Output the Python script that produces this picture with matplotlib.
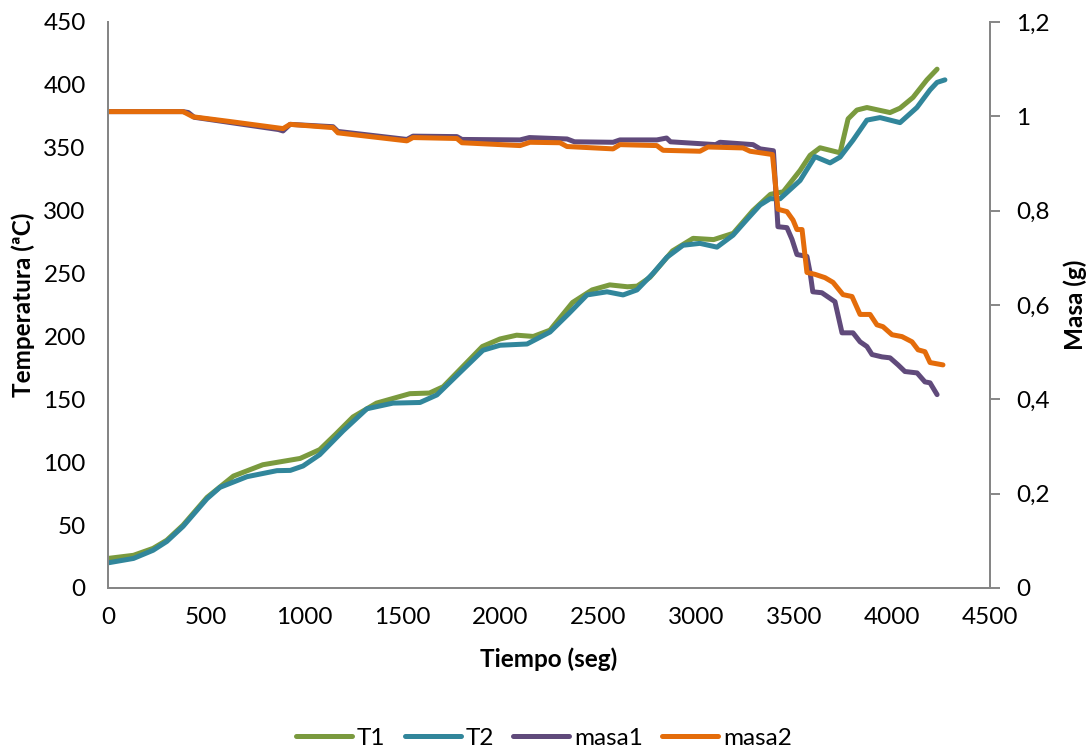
import matplotlib
matplotlib.use("Agg")
from matplotlib import pyplot as plt
from matplotlib.ticker import FuncFormatter

# temperature series (ºC) vs time (s)
t1_time = [0, 130, 230, 300, 383, 505, 640, 790, 980, 1080, 1160, 1250, 1370, 1540, 1640, 1710,
           1810, 1910, 2000, 2085, 2170, 2255, 2370, 2470, 2560, 2650, 2700, 2765, 2880, 2985,
           3090, 3190, 3290, 3380, 3445, 3531, 3582, 3633, 3735, 3776, 3821, 3872, 3990, 4041,
           4107, 4178, 4230]
t1_vals = [23.5, 26, 31.5, 38, 50, 72, 89, 98, 103, 110, 122, 136, 147, 154.5, 155, 160,
           176, 192, 198, 201, 200, 205, 227, 237, 241, 239.5, 240, 247, 268, 278,
           277, 282, 300, 313, 315, 332, 344, 350, 346, 373, 380, 382, 378, 381.5,
           390, 404, 412.5]

t2_time = [0, 130, 230, 300, 383, 505, 571, 709, 862, 930, 995, 1080, 1200, 1321, 1454, 1592,
           1678, 1800, 1913, 2000, 2138, 2255, 2350, 2444, 2546, 2628, 2699, 2780, 2852, 2934,
           3020, 3107, 3189, 3260, 3327, 3378, 3429, 3531, 3607, 3684, 3735, 3801, 3872, 3939,
           4041, 4127, 4194, 4230, 4270]
t2_vals = [20, 23.5, 30, 37, 49, 71, 80, 88.5, 93.3, 93.5, 97, 106, 125, 142.5, 147, 147.5,
           153.5, 172, 189, 193, 194, 203.5, 218, 233, 235.5, 233, 237, 250, 263, 272.5,
           274, 271, 280.5, 293, 304.5, 309.5, 309.5, 324, 343, 338, 342.6, 356, 372, 374,
           370, 382, 396, 402, 404]

# mass series (g) vs time (s)
m1_time = [0, 383, 410, 440, 622, 870, 893, 929, 1148, 1173, 1525, 1556, 1780, 1806, 2102,
           2150, 2342, 2380, 2577, 2612, 2800, 2850, 2870, 3100, 3122, 3291, 3327, 3395,
           3418, 3464, 3490, 3515, 3566, 3582, 3596, 3642, 3709, 3745, 3801, 3837, 3872,
           3898, 3949, 3990, 4031, 4066, 4128, 4168, 4194, 4230]
m1_vals = [1.01, 1.01, 1.008, 0.998, 0.987, 0.972, 0.969, 0.983, 0.978, 0.968, 0.951, 0.958,
           0.957, 0.951, 0.950, 0.955, 0.952, 0.946, 0.945, 0.950, 0.950, 0.954, 0.946, 0.940,
           0.945, 0.940, 0.931, 0.927, 0.766, 0.764, 0.739, 0.707, 0.703, 0.669, 0.628, 0.626,
           0.607, 0.541, 0.541, 0.522, 0.512, 0.495, 0.490, 0.488, 0.473, 0.459, 0.456, 0.437,
           0.435, 0.410]

m2_time = [0, 383, 434, 622, 893, 929, 1148, 1173, 1525, 1556, 1780, 1806, 2102, 2153, 2306,
           2342, 2577, 2612, 2800, 2832, 3020, 3061, 3240, 3276, 3390, 3418, 3464, 3495,
           3515, 3541, 3566, 3607, 3658, 3699, 3750, 3796, 3837, 3888, 3923, 3954, 4000,
           4051, 4102, 4133, 4168, 4194, 4260]
m2_vals = [1.01, 1.01, 0.999, 0.989, 0.974, 0.983, 0.976, 0.965, 0.948, 0.955, 0.953, 0.944,
           0.938, 0.945, 0.944, 0.936, 0.931, 0.940, 0.938, 0.928, 0.926, 0.935, 0.933, 0.926,
           0.919, 0.803, 0.798, 0.780, 0.760, 0.760, 0.669, 0.665, 0.658, 0.648, 0.622, 0.618,
           0.580, 0.580, 0.558, 0.554, 0.537, 0.533, 0.522, 0.505, 0.501, 0.478, 0.473]

x_ticks = [0, 500, 1000, 1500, 2000, 2500, 3000, 3500, 4000, 4500]
temp_ticks = [0, 50, 100, 150, 200, 250, 300, 350, 400, 450]
mass_ticks = [0, 0.2, 0.4, 0.6, 0.8, 1.0, 1.2]

plt.rcParams['font.family'] = ['Lato', 'DejaVu Sans']
FS = 17.5
GRAY = '#868686'

fig = plt.figure(figsize=(10.88, 7.48), dpi=100)
ax = fig.add_axes([108 / 1088, 160 / 748, 882 / 1088, 566 / 748])
ax2 = ax.twinx()

lw = 3.6
kw = dict(lw=lw, solid_capstyle='round', solid_joinstyle='round')
l1, = ax.plot(t1_time, t1_vals, color='#7A9A3E', label='T1', **kw)
l2, = ax.plot(t2_time, t2_vals, color='#31869B', label='T2', **kw)
l3, = ax2.plot(m1_time, m1_vals, color='#604A7B', label='masa1', **kw)
l4, = ax2.plot(m2_time, m2_vals, color='#E46C0A', label='masa2', **kw)

ax.set_xlim(0, 4500)
ax.set_ylim(0, 450)
ax2.set_ylim(0, 1.2)
ax.set_xticks(x_ticks)
ax.set_yticks(temp_ticks)
ax2.set_yticks(mass_ticks)
ax2.yaxis.set_major_formatter(FuncFormatter(lambda v, p: ('%g' % round(v, 1)).replace('.', ',')))

for a in (ax, ax2):
    for s in a.spines.values():
        s.set_color(GRAY)
        s.set_linewidth(1.4)
    a.spines['top'].set_visible(False)
ax.tick_params(axis='x', length=0, labelsize=FS, pad=14)
ax.tick_params(axis='y', length=0, labelsize=FS, pad=16)
ax2.tick_params(axis='y', length=7, width=1.4, color=GRAY, labelsize=FS, pad=12)

ax.set_xlabel('Tiempo (seg)', fontsize=FS, fontweight='bold', labelpad=14)
ax.set_ylabel('Temperatura (ªC)', fontsize=FS, fontweight='bold', labelpad=6)
ax2.set_ylabel('Masa (g)', fontsize=FS, fontweight='bold', labelpad=10)

fig.legend(handles=[l1, l2, l3, l4], loc='lower center', bbox_to_anchor=(0.5, -0.03), ncol=4,
           frameon=False, fontsize=FS, handlelength=2.3, columnspacing=0.8, handletextpad=0.2)

fig.savefig('out.png', dpi=100)
